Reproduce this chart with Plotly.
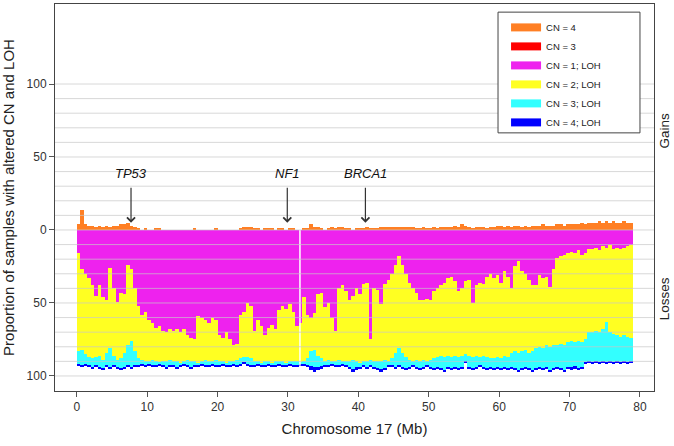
import plotly.graph_objects as go

# ---------------- data ----------------
bin_size_mb = 0.5
n_bins = 158  # 0.0 .. 78.5 Mb

# depth of CN = 1; LOH (magenta) per bin, % of samples
loss_cn1_loh = [
    16, 27, 30, 33, 38, 45, 38, 46, 48, 26,
    40, 49, 43, 44, 24, 27, 40, 52, 58, 56,
    62, 64, 67, 66, 69, 70, 68, 69, 68, 70,
    68, 72, 74, 75, 59, 60, 62, 64, 60, 62,
    72, 74, 70, 75, 79, 78, 58, 56, 50, 52,
    69, 62, 66, 72, 67, 65, 68, 55, 52, 54,
    51, 56, 66, 64, 46, 58, 60, 57, 44, 43,
    53, 50, 60, 69, 40, 38, 42, 48, 45, 40,
    44, 37, 36, 75, 40, 41, 51, 37, 34, 30,
    24, 18, 24, 30, 36, 40, 43, 48, 48, 47,
    48, 42, 40, 38, 36, 33, 32, 35, 42, 40,
    35, 34, 50, 38, 36, 37, 32, 30, 33, 31,
    36, 28, 32, 40, 25, 21, 28, 30, 34, 38,
    38, 31, 33, 32, 39, 27, 19, 18, 17, 16,
    15, 16, 14, 17, 16, 13, 13, 12, 14, 11,
    12, 10, 13, 12, 13, 12, 11, 10,
]
# cumulative depth down to the bottom of CN = 2; LOH (yellow)
loss_cum_cn2_loh = [
    83, 82, 85, 87, 88, 87, 86, 89, 84, 81,
    86, 89, 88, 84, 79, 76, 83, 88, 89, 90,
    90, 89, 90, 91, 90, 90, 89, 90, 90, 91,
    90, 89, 90, 90, 91, 90, 89, 90, 90, 89,
    90, 90, 91, 90, 90, 89, 88, 87, 87, 88,
    90, 90, 91, 90, 90, 91, 90, 90, 90, 91,
    90, 90, 90, 91, 90, 88, 83, 82, 86, 88,
    90, 89, 90, 90, 89, 90, 90, 90, 89, 90,
    91, 90, 90, 89, 90, 90, 90, 89, 90, 88,
    84, 81, 84, 87, 89, 90, 89, 90, 89, 90,
    89, 88, 87, 86, 87, 86, 87, 86, 87, 86,
    85, 86, 87, 86, 87, 86, 87, 88, 88, 87,
    88, 86, 87, 84, 83, 84, 83, 82, 84, 83,
    81, 80, 81, 79, 80, 79, 79, 78, 79, 77,
    76, 77, 76, 77, 75, 70, 70, 69, 70, 68,
    63, 70, 71, 72, 73, 72, 73, 74,
]
# cumulative total loss depth (bottom of the stack)
loss_cum_total = [
    93, 94, 93, 94, 95, 94, 95, 96, 94, 95,
    94, 95, 96, 95, 94, 95, 94, 94, 93, 94,
    93, 94, 94, 93, 94, 95, 94, 94, 95, 94,
    93, 94, 95, 94, 94, 93, 94, 94, 93, 94,
    94, 93, 94, 94, 93, 94, 93, 92, 93, 94,
    94, 93, 94, 94, 93, 94, 94, 93, 94, 94,
    93, 94, 94, 93, 93, 94, 96, 97, 96, 95,
    94, 94, 93, 94, 94, 93, 94, 95, 97, 96,
    95, 94, 95, 94, 95, 96, 97, 96, 94, 94,
    95, 94, 95, 96, 95, 94, 95, 96, 95, 94,
    95, 96, 95, 96, 97, 95, 96, 95, 96, 95,
    91, 95, 96, 95, 94, 95, 96, 95, 96, 95,
    96, 95, 96, 95, 96, 97, 96, 95, 96, 97,
    96, 95, 96, 95, 97, 96, 95, 96, 97, 95,
    96, 95, 96, 95, 92, 91, 92, 91, 92, 91,
    92, 91, 92, 91, 92, 91, 92, 91,
]
# CN = 4; LOH (blue) at the bottom of the stack
loss_cn4_loh = [
    1, 1, 1, 1, 1, 1, 1, 1, 1, 1,
    1, 1, 1, 1, 1, 1, 1, 1, 1, 1,
    1, 1, 1, 1, 1, 1, 1, 1, 1, 1,
    1, 1, 1, 1, 1, 1, 1, 1, 1, 1,
    1, 1, 1, 1, 1, 1, 1, 1, 1, 1,
    1, 1, 1, 1, 1, 1, 1, 1, 1, 1,
    1, 1, 1, 1, 1, 1, 3, 3, 2, 2,
    1, 1, 1, 1, 1, 1, 1, 1, 2, 2,
    1, 1, 1, 1, 1, 1, 2, 1, 1, 1,
    1, 1, 1, 1, 1, 1, 1, 1, 1, 1,
    1, 1, 1, 1, 1, 1, 1, 1, 1, 1,
    1, 1, 1, 1, 1, 1, 1, 1, 1, 1,
    1, 1, 1, 1, 1, 1, 1, 1, 1, 1,
    1, 1, 1, 1, 1, 1, 1, 1, 1, 1,
    2, 2, 1, 1, 1, 1, 1, 1, 1, 1,
    1, 1, 1, 1, 1, 1, 1, 1,
]
# gains: CN = 4 (orange)
gain_cn4 = [
    4, 14, 4, 3, 3, 2, 3, 2, 3, 2,
    3, 3, 4, 4, 5, 3, 2, 1, 0, 1,
    0, 0, 1, 1, 0, 0, 0, 0, 0, 0,
    0, 0, 0, 1, 0, 0, 0, 0, 0, 1,
    0, 0, 0, 0, 0, 0, 1, 2, 2, 2,
    1, 1, 0, 1, 1, 1, 0, 1, 1, 0,
    1, 1, 0, 0, 1, 1, 4, 2, 2, 1,
    0, 1, 2, 1, 2, 2, 1, 1, 0, 1,
    1, 1, 2, 1, 1, 1, 2, 2, 2, 2,
    2, 2, 2, 2, 2, 2, 1, 1, 2, 1,
    1, 2, 1, 2, 2, 2, 2, 3, 2, 4,
    3, 2, 1, 2, 2, 2, 1, 2, 2, 3,
    3, 2, 3, 2, 3, 3, 2, 3, 2, 3,
    3, 3, 4, 3, 3, 3, 4, 4, 3, 4,
    4, 4, 4, 5, 4, 5, 5, 5, 6, 5,
    6, 5, 6, 5, 5, 6, 5, 5,
]
# gains: CN = 3 (red) - essentially absent
gain_cn3 = [
    0, 0, 0, 0, 0, 0, 0, 0, 0, 0,
    0, 0, 0, 0, 0, 0, 0, 0, 0, 0,
    0, 0, 0, 0, 0, 0, 0, 0, 0, 0,
    0, 0, 0, 0, 0, 0, 0, 0, 0, 0,
    0, 0, 0, 0, 0, 0, 0, 0, 0, 0,
    0, 0, 0, 0, 0, 0, 0, 0, 0, 0,
    0, 0, 0, 0, 0, 0, 0, 0, 0, 0,
    0, 0, 0, 0, 0, 0, 0, 0, 0, 0,
    0, 0, 0, 0, 0, 0, 0, 0, 0, 0,
    0, 0, 0, 0, 0, 0, 0, 0, 0, 0,
    0, 0, 0, 0, 0, 0, 0, 0, 0, 0,
    0, 0, 0, 0, 0, 0, 0, 0, 0, 0,
    0, 0, 0, 0, 0, 0, 0, 0, 0, 0,
    0, 0, 0, 0, 0, 0, 0, 0, 0, 0,
    0, 0, 0, 0, 0, 0, 0, 0, 0, 0,
    0, 0, 0, 0, 0, 0, 0, 0,
]

genes = ["TP53", "NF1", "BRCA1"]
gene_pos_mb = [7.7, 29.9, 41.0]
centromere_gap_mb = 31.7

legend_labels = ["CN = 4", "CN = 3", "CN = 1; LOH", "CN = 2; LOH", "CN = 3; LOH", "CN = 4; LOH"]
legend_colors = ["#FF7F24", "#FF0000", "#EE22EE", "#FFFF22", "#33FFFF", "#0000FF"]

x_ticks = [0, 10, 20, 30, 40, 50, 60, 70, 80]
y_tickvals = [-100, -50, 0, 50, 100]
y_ticktext = ["100", "50", "0", "50", "100"]
grid_levels = list(range(-100, 101, 10))

# ---------------- derived layers ----------------
x_centers = [bin_size_mb * (i + 0.5) for i in range(n_bins)]
yellow = [max(0, t - m) for t, m in zip(loss_cum_cn2_loh, loss_cn1_loh)]
cyan = [max(0, tot - t2 - b) for tot, t2, b in zip(loss_cum_total, loss_cum_cn2_loh, loss_cn4_loh)]

c_cn4, c_cn3, c_cn1l, c_cn2l, c_cn3l, c_cn4l = legend_colors

fig = go.Figure()

def add_bar(vals, color, sign):
    fig.add_trace(go.Bar(
        x=x_centers, y=[sign * v for v in vals], width=bin_size_mb,
        marker=dict(color=color, line=dict(width=0)),
        showlegend=False, hoverinfo="skip"))

add_bar(loss_cn1_loh, c_cn1l, -1)
add_bar(yellow, c_cn2l, -1)
add_bar(cyan, c_cn3l, -1)
add_bar(loss_cn4_loh, c_cn4l, -1)
add_bar(gain_cn4, c_cn4, 1)
add_bar(gain_cn3, c_cn3, 1)

# legend entries
for lab, col in zip(legend_labels, legend_colors):
    fig.add_trace(go.Scatter(x=[None], y=[None], mode="lines", name=lab,
                             line=dict(color=col, width=8)))

# white gap (centromere)
gap_idx = int(centromere_gap_mb / bin_size_mb)
fig.add_trace(go.Scatter(x=[centromere_gap_mb, centromere_gap_mb],
                         y=[0, -loss_cum_total[gap_idx]], mode="lines",
                         line=dict(color="white", width=1.5),
                         showlegend=False, hoverinfo="skip"))

shapes = []
for g in grid_levels:
    shapes.append(dict(type="line", xref="paper", x0=0, x1=1, yref="y", y0=g, y1=g,
                       line=dict(color="rgba(200,200,200,0.7)", width=1), layer="above"))
# legend frame
shapes.append(dict(type="rect", xref="paper", yref="paper", x0=0.7396, x1=0.9766,
                   y0=0.667, y1=0.979, line=dict(color="#444", width=1),
                   fillcolor="white", layer="above"))

annotations = []
for name, pos in zip(genes, gene_pos_mb):
    annotations.append(dict(x=pos, y=5, ax=pos, ay=30, xref="x", yref="y",
                            axref="x", ayref="y", text="", showarrow=True,
                            arrowhead=4, arrowsize=1.3, arrowwidth=1.2, arrowcolor="#333"))
    annotations.append(dict(x=pos, y=38.5, xref="x", yref="y", text=f"<i>{name}</i>",
                            showarrow=False, font=dict(size=13, color="#111")))
annotations.append(dict(x=1.018, y=68, xref="paper", yref="y", text="Gains",
                        xanchor="center", yanchor="middle",
                        textangle=-90, showarrow=False, font=dict(size=13.5, color="#222")))
annotations.append(dict(x=1.018, y=-47, xref="paper", yref="y", text="Losses",
                        xanchor="center", yanchor="middle",
                        textangle=-90, showarrow=False, font=dict(size=13.5, color="#222")))

fig.update_layout(
    width=674, height=446,
    margin=dict(l=55, r=20, t=4, b=55, autoexpand=False),
    barmode="relative", bargap=0,
    plot_bgcolor="white", paper_bgcolor="white",
    font=dict(family="Liberation Sans, Arial, sans-serif", size=12, color="#222"),
    shapes=shapes, annotations=annotations,
    legend=dict(x=0.753, y=0.977, xanchor="left", yanchor="top",
                bgcolor="rgba(0,0,0,0)", borderwidth=0,
                font=dict(size=9.5, color="#222")),
    xaxis=dict(range=[-3.1, 82], tickvals=x_ticks, ticks="outside", ticklen=5,
               tickcolor="#555", showgrid=False, zeroline=False,
               showline=True, linecolor="#444", mirror=True,
               title=dict(text="Chromosome 17 (Mb)", font=dict(size=15), standoff=10),
               tickfont=dict(size=12, color="#333")),
    yaxis=dict(range=[-110.3, 154.8], tickvals=y_tickvals, ticktext=y_ticktext,
               ticks="outside", ticklen=5, tickcolor="#555", showgrid=False,
               zeroline=False, showline=True, linecolor="#444", mirror=True,
               title=dict(text="Proportion of samples with altered CN and LOH",
                          font=dict(size=15), standoff=8),
               tickfont=dict(size=12, color="#333")),
)

fig.write_html("out.html", config={"displayModeBar": False},
               post_script="document.body.style.margin='0';document.body.style.padding='0';")
